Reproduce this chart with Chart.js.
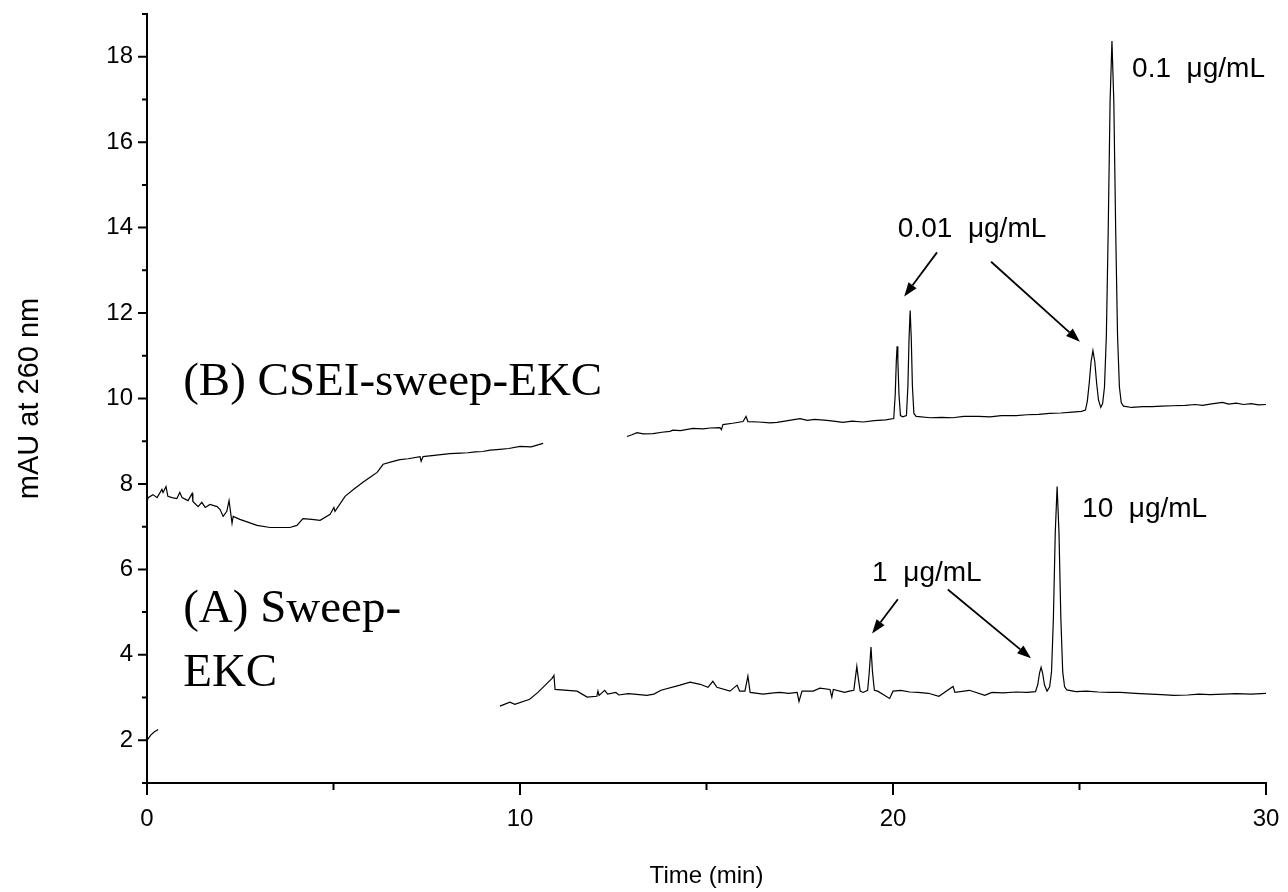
<!DOCTYPE html>
<html lang="en">
  <head>
    <meta charset="UTF-8" />
    <title>Sweep-EKC electropherograms</title>
    <style>
      body { margin: 0; background: #fff; }
      .chart-container { position: relative; width: 1288px; height: 892px; }
    </style>
    <script src="https://cdn.jsdelivr.net/npm/chart.js"></script>
  </head>
  <body>
    <div class="chart-container">
      <canvas id="myChart" width="1288" height="892"></canvas>
    </div>

    <script>
      // trace B (CSEI-sweep-EKC), two pieces with a gap around 11-13 min
      const bTime1 = [0, 0.03, 0.16, 0.27, 0.40, 0.43, 0.51, 0.56, 0.67, 0.80, 0.88, 0.94, 1.10, 1.21, 1.23, 1.37, 1.47, 1.56, 1.69, 1.88, 1.96, 2.04, 2.14, 2.20, 2.28, 2.31, 2.49, 2.95, 3.30, 3.83, 4.02, 4.18, 4.42, 4.64, 4.91, 5.01, 5.04, 5.31, 5.55, 5.79, 6.00, 6.17, 6.33, 6.60, 6.78, 7.00, 7.32, 7.35, 7.40, 7.70, 8.12, 8.40, 8.60, 8.80, 9.00, 9.20, 9.46, 9.70, 10.00, 10.30, 10.62];
      const bSig1 = [7.57, 7.68, 7.75, 7.68, 7.87, 7.80, 7.94, 7.71, 7.68, 7.66, 7.80, 7.68, 7.61, 7.78, 7.59, 7.47, 7.57, 7.45, 7.52, 7.47, 7.40, 7.24, 7.36, 7.61, 7.08, 7.24, 7.17, 7.03, 6.98, 6.98, 7.03, 7.19, 7.17, 7.15, 7.29, 7.45, 7.36, 7.71, 7.88, 8.04, 8.17, 8.27, 8.46, 8.53, 8.57, 8.59, 8.64, 8.53, 8.64, 8.67, 8.71, 8.72, 8.73, 8.75, 8.76, 8.79, 8.81, 8.83, 8.88, 8.87, 8.95];

      const bTime2 = [12.87, 13.00, 13.14, 13.30, 13.57, 13.80, 14.02, 14.10, 14.30, 14.64, 14.90, 15.10, 15.36, 15.40, 15.44, 15.70, 15.98, 16.06, 16.11, 16.40, 16.70, 16.89, 17.10, 17.30, 17.51, 17.70, 17.90, 18.23, 18.40, 18.66, 18.90, 19.20, 19.50, 19.80, 20.02, 20.06, 20.09, 20.11, 20.13, 20.16, 20.20, 20.26, 20.36, 20.40, 20.43, 20.46, 20.49, 20.52, 20.56, 20.62, 21.00, 21.30, 21.60, 21.90, 22.30, 22.60, 22.90, 23.30, 23.60, 23.91, 24.20, 24.50, 24.80, 25.05, 25.16, 25.21, 25.26, 25.31, 25.36, 25.41, 25.46, 25.51, 25.57, 25.62, 25.67, 25.72, 25.77, 25.82, 25.87, 25.92, 25.97, 26.02, 26.07, 26.12, 26.18, 26.40, 26.70, 26.95, 27.20, 27.50, 27.84, 28.10, 28.30, 28.50, 28.83, 29.00, 29.20, 29.40, 29.60, 29.80, 30.00];
      const bSig2 = [9.11, 9.15, 9.20, 9.17, 9.18, 9.21, 9.23, 9.26, 9.25, 9.30, 9.29, 9.31, 9.32, 9.27, 9.39, 9.42, 9.46, 9.58, 9.46, 9.45, 9.43, 9.44, 9.47, 9.50, 9.53, 9.49, 9.51, 9.49, 9.47, 9.44, 9.47, 9.45, 9.48, 9.50, 9.53, 10.10, 10.90, 11.22, 10.90, 10.10, 9.60, 9.57, 9.60, 10.30, 11.40, 12.06, 11.40, 10.30, 9.65, 9.58, 9.55, 9.56, 9.55, 9.58, 9.58, 9.57, 9.60, 9.60, 9.62, 9.63, 9.65, 9.66, 9.68, 9.70, 9.73, 9.94, 10.35, 10.86, 11.12, 10.86, 10.35, 9.96, 9.79, 9.88, 10.27, 11.47, 13.95, 16.95, 18.37, 16.95, 13.95, 11.47, 10.27, 9.90, 9.82, 9.79, 9.81, 9.81, 9.82, 9.83, 9.84, 9.86, 9.84, 9.87, 9.91, 9.87, 9.89, 9.86, 9.88, 9.85, 9.86];

      // trace A (Sweep-EKC)
      const aTime0 = [0, 0.10, 0.20, 0.30];
      const aSig0 = [2.00, 2.12, 2.20, 2.25];

      const aTime1 = [9.46, 9.73, 9.86, 10.26, 10.48, 10.86, 10.91, 10.94, 11.53, 11.80, 12.06, 12.09, 12.12, 12.27, 12.35, 12.57, 12.65, 12.90, 13.20, 13.40, 13.59, 13.78, 14.29, 14.56, 14.83, 15.04, 15.17, 15.28, 15.63, 15.82, 15.89, 16.03, 16.11, 16.17, 16.52, 16.80, 16.97, 17.20, 17.43, 17.48, 17.56, 17.86, 18.04, 18.31, 18.36, 18.40, 18.70, 18.83, 18.95, 18.99, 19.03, 19.07, 19.12, 19.20, 19.32, 19.36, 19.41, 19.45, 19.50, 19.59, 19.91, 20.00, 20.21, 20.45, 20.67, 20.95, 21.23, 21.61, 21.66, 22.05, 22.46, 22.65, 22.95, 23.30, 23.60, 23.82, 23.88, 23.93, 23.97, 24.01, 24.06, 24.13, 24.20, 24.25, 24.30, 24.35, 24.40, 24.45, 24.50, 24.55, 24.60, 24.66, 24.90, 25.19, 25.50, 25.80, 26.10, 26.50, 26.90, 27.20, 27.53, 27.90, 28.20, 28.50, 28.87, 29.20, 29.60, 30.00];
      const aSig1 = [2.80, 2.89, 2.84, 2.96, 3.12, 3.45, 3.52, 3.19, 3.15, 3.01, 3.03, 3.15, 3.05, 3.17, 3.08, 3.12, 3.06, 3.09, 3.07, 3.05, 3.08, 3.17, 3.29, 3.36, 3.31, 3.24, 3.38, 3.24, 3.15, 3.29, 3.15, 3.15, 3.50, 3.12, 3.08, 3.11, 3.12, 3.10, 3.12, 2.91, 3.15, 3.15, 3.22, 3.19, 3.01, 3.19, 3.12, 3.15, 3.17, 3.45, 3.73, 3.45, 3.15, 3.12, 3.17, 3.55, 4.18, 3.60, 3.17, 3.15, 2.98, 3.15, 3.17, 3.13, 3.12, 3.10, 3.03, 3.26, 3.12, 3.17, 3.05, 3.12, 3.11, 3.13, 3.12, 3.14, 3.30, 3.58, 3.71, 3.58, 3.30, 3.15, 3.25, 3.60, 4.85, 6.86, 7.94, 6.86, 4.85, 3.60, 3.25, 3.18, 3.14, 3.15, 3.13, 3.12, 3.12, 3.10, 3.08, 3.07, 3.05, 3.06, 3.08, 3.07, 3.08, 3.09, 3.08, 3.10];

      // axis ticks
      const xMajor = [0, 10, 20, 30];
      const xMinor = [5, 15, 25];
      const yMajor = [2, 4, 6, 8, 10, 12, 14, 16, 18];
      const yMinor = [1, 3, 5, 7, 9, 11, 13, 15, 17, 19];

      // annotations (in data units)
      const serifLabels = [
        { text: '(B) CSEI-sweep-EKC', x: 0.97, y: 10.09 },
        { text: '(A) Sweep-', x: 0.97, y: 4.76 },
        { text: 'EKC', x: 0.97, y: 3.26 }
      ];
      const concLabels = [
        { text: '0.1  \u03bcg/mL', x: 26.41, y: 17.53 },
        { text: '0.01  \u03bcg/mL', x: 20.13, y: 13.79 },
        { text: '10  \u03bcg/mL', x: 25.07, y: 7.22 },
        { text: '1  \u03bcg/mL', x: 19.44, y: 5.72 }
      ];
      const arrows = [
        { x1: 21.18, y1: 13.42, x2: 20.30, y2: 12.39 },
        { x1: 22.63, y1: 13.20, x2: 25.01, y2: 11.33 },
        { x1: 20.13, y1: 5.30, x2: 19.44, y2: 4.50 },
        { x1: 21.47, y1: 5.53, x2: 23.70, y2: 3.92 }
      ];

      function pts(xs, ys) {
        return xs.map((x, i) => ({ x: x, y: ys[i] }));
      }

      function trace(xs, ys) {
        return {
          data: pts(xs, ys),
          borderColor: '#000',
          borderWidth: 1.2,
          pointRadius: 0,
          fill: false,
          tension: 0
        };
      }

      const extras = {
        id: 'extras',
        afterDraw(chart) {
          const ctx = chart.ctx;
          const xs = chart.scales.x;
          const ys = chart.scales.y;
          const bottom = chart.chartArea.bottom;
          const left = chart.chartArea.left;
          ctx.save();
          ctx.strokeStyle = '#000';
          ctx.fillStyle = '#000';
          ctx.lineWidth = 2;

          // tick marks
          ctx.beginPath();
          xMajor.forEach(v => { const p = xs.getPixelForValue(v); ctx.moveTo(p, bottom); ctx.lineTo(p, bottom + 12); });
          xMinor.forEach(v => { const p = xs.getPixelForValue(v); ctx.moveTo(p, bottom); ctx.lineTo(p, bottom + 7); });
          yMajor.forEach(v => { const p = ys.getPixelForValue(v); ctx.moveTo(left, p); ctx.lineTo(left - 9, p); });
          yMinor.forEach(v => { const p = ys.getPixelForValue(v); ctx.moveTo(left, p); ctx.lineTo(left - 5, p); });
          ctx.stroke();

          // arrows
          arrows.forEach(a => {
            const x1 = xs.getPixelForValue(a.x1), y1 = ys.getPixelForValue(a.y1);
            const x2 = xs.getPixelForValue(a.x2), y2 = ys.getPixelForValue(a.y2);
            const ang = Math.atan2(y2 - y1, x2 - x1);
            const hl = 14, hw = 5;
            const bx = x2 - hl * Math.cos(ang), by = y2 - hl * Math.sin(ang);
            ctx.lineWidth = 1.8;
            ctx.beginPath();
            ctx.moveTo(x1, y1);
            ctx.lineTo(bx, by);
            ctx.stroke();
            ctx.beginPath();
            ctx.moveTo(x2, y2);
            ctx.lineTo(bx + hw * Math.sin(ang), by - hw * Math.cos(ang));
            ctx.lineTo(bx - hw * Math.sin(ang), by + hw * Math.cos(ang));
            ctx.closePath();
            ctx.fill();
          });

          // labels
          ctx.textAlign = 'left';
          ctx.textBaseline = 'alphabetic';
          ctx.font = '47px "Liberation Serif", "DejaVu Serif", serif';
          serifLabels.forEach(l => {
            ctx.fillText(l.text, xs.getPixelForValue(l.x), ys.getPixelForValue(l.y));
          });
          ctx.font = '28px "Liberation Sans", Arial, sans-serif';
          concLabels.forEach(l => {
            ctx.fillText(l.text, xs.getPixelForValue(l.x), ys.getPixelForValue(l.y));
          });
          ctx.restore();
        }
      };

      window.addEventListener('load', setup);

      function setup() {
        const ctx = document.getElementById('myChart').getContext('2d');

        const myChart = new Chart(ctx, {
          type: 'line',
          data: {
            datasets: [
              trace(bTime1, bSig1),
              trace(bTime2, bSig2),
              trace(aTime0, aSig0),
              trace(aTime1, aSig1)
            ]
          },
          options: {
            responsive: false,
            animation: false,
            layout: { padding: { top: 14, right: 22, left: 0, bottom: 0 } },
            plugins: {
              legend: { display: false },
              tooltip: { enabled: false }
            },
            scales: {
              x: {
                type: 'linear',
                min: 0,
                max: 30,
                grid: { display: false },
                border: { display: true, color: '#000', width: 2 },
                ticks: {
                  stepSize: 5,
                  autoSkip: false,
                  maxRotation: 0,
                  padding: 14,
                  color: '#000',
                  font: { family: '"Liberation Sans", Arial, sans-serif', size: 24 },
                  callback: v => (v % 10 === 0 ? v : '')
                },
                title: {
                  display: true,
                  text: 'Time (min)',
                  color: '#000',
                  font: { family: '"Liberation Sans", Arial, sans-serif', size: 24 },
                  padding: { top: 0, bottom: 1 }
                },
                afterFit: s => { s.height = 109; s.paddingLeft = 0; s.paddingRight = 0; }
              },
              y: {
                min: 1,
                max: 19,
                grid: { display: false },
                border: { display: true, color: '#000', width: 2 },
                ticks: {
                  stepSize: 1,
                  autoSkip: false,
                  padding: 6,
                  color: '#000',
                  font: { family: '"Liberation Sans", Arial, sans-serif', size: 24 },
                  callback: v => (v % 2 === 0 ? v : '')
                },
                title: {
                  display: true,
                  text: 'mAU at 260 nm',
                  color: '#000',
                  font: { family: '"Liberation Sans", Arial, sans-serif', size: 29 },
                  padding: { top: 13, bottom: 0 }
                },
                afterFit: s => { s.width = 147; s.paddingTop = 0; s.paddingBottom = 0; }
              }
            }
          },
          plugins: [extras]
        });
      }
    </script>
  </body>
</html>
